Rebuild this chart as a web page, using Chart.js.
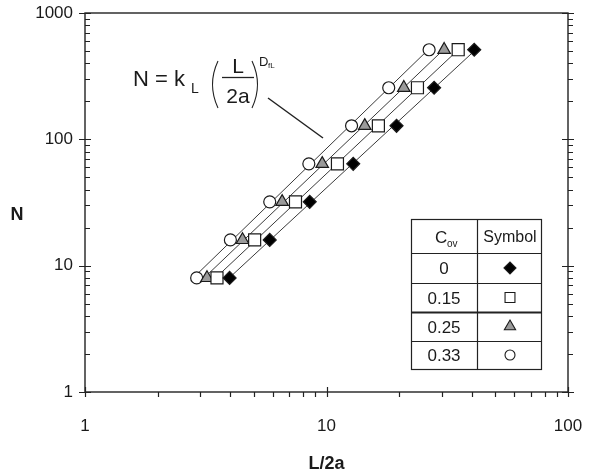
<!DOCTYPE html>
<html><head><meta charset="utf-8">
<script src="https://cdn.jsdelivr.net/npm/chart.js@4/dist/chart.umd.min.js"></script>
<style>html,body{margin:0;padding:0;background:#fff}#c{display:block}</style>
</head><body>
<canvas id="c" width="592" height="475"></canvas>
<script>
// ---- data ----
const N_values = [8, 16, 32, 64, 128, 256, 512];
const x_cov0   = [3.97, 5.82, 8.52, 12.9, 19.5, 27.9, 40.9];
const x_cov015 = [3.52, 5.04, 7.44, 11.1, 16.4, 23.8, 35.1];
const x_cov025 = [3.2, 4.49, 6.55, 9.6, 14.4, 20.9, 30.7];
const x_cov033 = [2.9, 4.0, 5.82, 8.45, 12.7, 18.1, 26.6];
const covLabels = ['0', '0.15', '0.25', '0.33'];
const xTickValues = [1, 10, 100];
const yTickValues = [1, 10, 100, 1000];

const FONT = '"Liberation Sans", Arial, Helvetica, sans-serif';
const INK = '#1a1a1a';

function pts(xs) { return xs.map((v, i) => ({x: v, y: N_values[i]})); }
function fitLine(xs) {
  const lx = xs.map(Math.log10), ly = N_values.map(Math.log10);
  const n = lx.length;
  const mx = lx.reduce((a, b) => a + b, 0) / n, my = ly.reduce((a, b) => a + b, 0) / n;
  let sxy = 0, sxx = 0;
  for (let i = 0; i < n; i++) { sxy += (lx[i] - mx) * (ly[i] - my); sxx += (lx[i] - mx) ** 2; }
  const b = sxy / sxx, c = my - b * mx;
  return [{x: xs[0], y: Math.pow(10, c + b * lx[0])}, {x: xs[n - 1], y: Math.pow(10, c + b * lx[n - 1])}];
}

const series = [
  {label: covLabels[0], xs: x_cov0,   style: 'rectRot',  r: 6.5, fill: '#000', order: 1},
  {label: covLabels[1], xs: x_cov015, style: 'rect',     r: 8.5, fill: '#fff', order: 2},
  {label: covLabels[2], xs: x_cov025, style: 'triangle', r: 7.2, fill: '#9a9a9a', order: 3},
  {label: covLabels[3], xs: x_cov033, style: 'circle',   r: 6,   fill: '#fff', order: 4}
];

const datasets = [];
series.forEach(s => {
  datasets.push({
    label: 'fit ' + s.label, data: fitLine(s.xs), showLine: true,
    borderColor: '#3a3a3a', borderWidth: 1, pointRadius: 0, order: 10
  });
});
series.forEach(s => {
  datasets.push({
    label: s.label, data: pts(s.xs), showLine: false,
    pointStyle: s.style, pointRadius: s.r, pointHoverRadius: s.r,
    backgroundColor: s.fill, borderColor: INK, pointBorderWidth: 1.2, borderWidth: 1.2,
    order: s.order
  });
});

const decor = {
  id: 'decor',
  afterDraw(chart) {
    const {ctx, chartArea: a, scales: {x, y}} = chart;
    ctx.save();
    ctx.strokeStyle = '#222';
    ctx.lineWidth = 1.4;
    ctx.strokeRect(a.left, a.top, a.right - a.left, a.bottom - a.top);
    // tick marks
    ctx.lineWidth = 1.2;
    ctx.beginPath();
    const minorVals = (lo, hi) => {
      const out = [];
      for (let d = lo; d < hi; d *= 10) for (let k = 2; k <= 9; k++) out.push(k * d);
      return out;
    };
    yTickValues.forEach(v => {
      const p = Math.round(y.getPixelForValue(v)) + 0.5;
      ctx.moveTo(a.left - 6, p); ctx.lineTo(a.left + 6, p);
      ctx.moveTo(a.right - 6, p); ctx.lineTo(a.right + 6, p);
    });
    minorVals(1, 1000).forEach(v => {
      const p = Math.round(y.getPixelForValue(v)) + 0.5;
      ctx.moveTo(a.left, p); ctx.lineTo(a.left + 5, p);
      ctx.moveTo(a.right, p); ctx.lineTo(a.right + 5, p);
    });
    xTickValues.forEach(v => {
      const p = Math.round(x.getPixelForValue(v)) + 0.5;
      ctx.moveTo(p, a.bottom - 5); ctx.lineTo(p, a.bottom + 5);
    });
    minorVals(1, 100).forEach(v => {
      const p = Math.round(x.getPixelForValue(v)) + 0.5;
      ctx.moveTo(p, a.bottom); ctx.lineTo(p, a.bottom + 5);
    });
    ctx.stroke();

    // axis titles
    ctx.fillStyle = INK;
    ctx.font = 'bold 18px ' + FONT;
    ctx.textAlign = 'center';
    ctx.textBaseline = 'alphabetic';
    ctx.fillText('N', 17, 220);
    ctx.fillText('L/2a', (a.left + a.right) / 2, 469);

    // formula annotation
    ctx.textAlign = 'left';
    ctx.font = '22px ' + FONT;
    ctx.fillText('N = k', 133, 86);
    ctx.font = '14px ' + FONT;
    ctx.fillText('L', 191, 93);
    ctx.lineWidth = 1.1;
    ctx.strokeStyle = '#222';
    ctx.beginPath();
    ctx.moveTo(218, 61); ctx.quadraticCurveTo(207, 84.5, 218, 108);
    ctx.moveTo(252, 61); ctx.quadraticCurveTo(263, 84.5, 252, 108);
    ctx.stroke();
    ctx.font = '21px ' + FONT;
    ctx.textAlign = 'center';
    ctx.fillText('L', 238, 73);
    ctx.fillText('2a', 238, 103);
    ctx.lineWidth = 1.3;
    ctx.beginPath(); ctx.moveTo(222, 77.5); ctx.lineTo(254, 77.5); ctx.stroke();
    ctx.textAlign = 'left';
    ctx.font = '13px ' + FONT;
    ctx.fillText('D', 259, 66);
    ctx.font = '8px ' + FONT;
    ctx.fillText('fL', 268, 68);
    ctx.lineWidth = 1.5;
    ctx.beginPath(); ctx.moveTo(268, 98); ctx.lineTo(323, 138); ctx.stroke();

    // legend table
    const tL = 411, tR = 541, tMid = 477;
    const rowsY = [219, 253, 283, 312, 341, 369];
    ctx.fillStyle = '#fff';
    ctx.fillRect(tL, rowsY[0], tR - tL, rowsY[5] - rowsY[0]);
    ctx.strokeStyle = '#222';
    ctx.lineWidth = 1.2;
    ctx.strokeRect(tL + 0.5, rowsY[0] + 0.5, tR - tL, rowsY[5] - rowsY[0]);
    ctx.beginPath();
    for (let i = 1; i < 5; i++) {
      ctx.moveTo(tL, rowsY[i] + 0.5); ctx.lineTo(tR, rowsY[i] + 0.5);
    }
    ctx.moveTo(tMid + 0.5, rowsY[0]); ctx.lineTo(tMid + 0.5, rowsY[5]);
    ctx.stroke();
    ctx.lineWidth = 2;
    ctx.beginPath(); ctx.moveTo(tL, rowsY[3] + 0.5); ctx.lineTo(tR, rowsY[3] + 0.5); ctx.stroke();

    ctx.fillStyle = INK;
    ctx.font = '17px ' + FONT;
    ctx.textAlign = 'left';
    ctx.fillText('C', 435, 243);
    ctx.font = '10px ' + FONT;
    ctx.fillText('ov', 447, 247);
    ctx.font = '16px ' + FONT;
    ctx.textAlign = 'center';
    ctx.fillText('Symbol', (tMid + tR) / 2 + 1, 242);
    ctx.font = '17px ' + FONT;
    const legR = [6, 7, 6.5, 5];
    series.forEach((s, i) => {
      const cy = (rowsY[i + 1] + rowsY[i + 2]) / 2;
      ctx.fillStyle = INK;
      ctx.fillText(s.label, (tL + tMid) / 2, cy + 6);
      ctx.fillStyle = s.fill;
      ctx.strokeStyle = INK;
      ctx.lineWidth = 1.1;
      Chart.helpers.drawPoint(ctx, {pointStyle: s.style, radius: legR[i], rotation: 0, borderWidth: 1.1}, (tMid + tR) / 2 + 1, cy);
    });
    ctx.restore();
  }
};

new Chart(document.getElementById('c'), {
  type: 'scatter',
  data: {datasets},
  plugins: [decor],
  options: {
    responsive: false, animation: false, devicePixelRatio: 1,
    layout: {padding: {top: 13, right: 24, left: 0, bottom: 0}},
    plugins: {legend: {display: false}, tooltip: {enabled: false}},
    scales: {
      x: {
        type: 'logarithmic', min: 1, max: 100, position: 'bottom',
        grid: {display: false, drawTicks: false}, border: {display: false},
        afterBuildTicks: s => { s.ticks = xTickValues.map(v => ({value: v, major: true})); },
        afterFit: s => { s.height = 83; s.paddingLeft = 0; s.paddingRight = 0; },
        ticks: {autoSkip: false, maxRotation: 0, padding: 24, color: INK,
                font: {family: FONT, size: 17}, callback: v => String(v)}
      },
      y: {
        type: 'logarithmic', min: 1, max: 1000, position: 'left',
        grid: {display: false, drawTicks: false}, border: {display: false},
        afterBuildTicks: s => { s.ticks = yTickValues.map(v => ({value: v, major: true})); },
        afterFit: s => { s.width = 85; s.paddingTop = 0; s.paddingBottom = 0; },
        ticks: {autoSkip: false, padding: 12, color: INK,
                font: {family: FONT, size: 17}, callback: v => String(v)}
      }
    }
  }
});
</script>
</body></html>
